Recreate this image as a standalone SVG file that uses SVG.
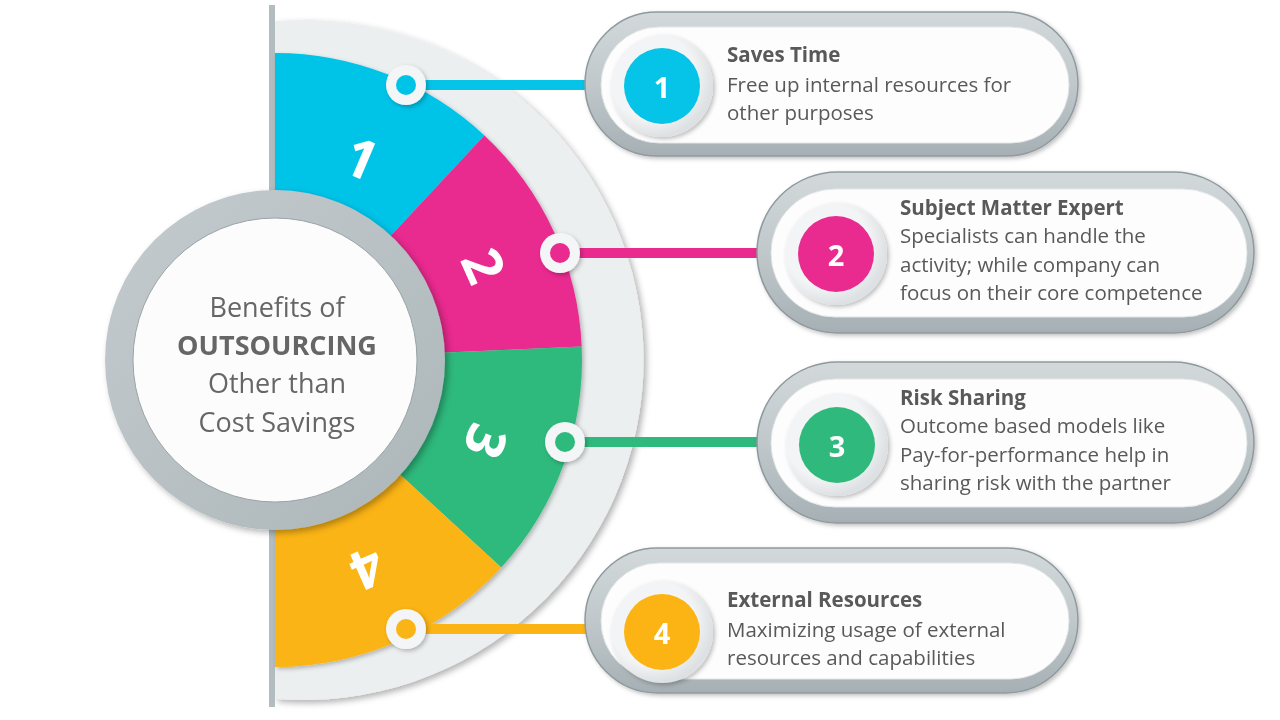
<svg xmlns="http://www.w3.org/2000/svg" width="1280" height="720" viewBox="0 0 1280 720">
<defs>
<style>
.body{font-family:"Open Sans","Liberation Sans",sans-serif;font-size:20.5px;fill:#595959}
.title{font-family:"Open Sans","Liberation Sans",sans-serif;font-size:20.5px;font-weight:bold;fill:#595959}
.num{font-family:"Open Sans","Liberation Sans",sans-serif;font-size:29px;font-weight:bold;fill:#ffffff;text-anchor:middle;dominant-baseline:central}
.seg{font-family:"Open Sans","Liberation Sans",sans-serif;font-size:54px;font-weight:bold;fill:#ffffff;text-anchor:middle;dominant-baseline:central}
.ctr{font-family:"Open Sans","Liberation Sans",sans-serif;font-size:27px;fill:#666666;text-anchor:middle}
.frame{fill:url(#frameG);stroke:#8f9a9e;stroke-width:1.5}
.inner{fill:#fdfdfd;stroke:#e2e6e7;stroke-width:1}
.halo{fill:url(#haloG);filter:url(#sh2)}
.conn{stroke-width:10;fill:none}
</style>
<linearGradient id="frameG" x1="0" y1="0" x2="0" y2="1">
<stop offset="0" stop-color="#d3d9db"/>
<stop offset="0.5" stop-color="#c0c8cb"/>
<stop offset="1" stop-color="#a6b0b4"/>
</linearGradient>
<linearGradient id="ringG" x1="0" y1="0" x2="1" y2="1">
<stop offset="0" stop-color="#c4cbce"/>
<stop offset="1" stop-color="#acb6b9"/>
</linearGradient>
<radialGradient id="haloG" cx="0.4" cy="0.4" r="0.6">
<stop offset="0.7" stop-color="#f3f4f5"/>
<stop offset="1" stop-color="#dde1e3"/>
</radialGradient>
<filter id="sh" x="-20%" y="-20%" width="140%" height="140%">
<feDropShadow dx="3" dy="3" stdDeviation="3" flood-color="#000" flood-opacity="0.3"/>
</filter>
<filter id="sh2" x="-20%" y="-20%" width="140%" height="140%">
<feDropShadow dx="2" dy="2" stdDeviation="2" flood-color="#000" flood-opacity="0.25"/>
</filter>
</defs>
<rect width="1280" height="720" fill="#ffffff"/>

<g id="backdrop">
<path d="M275,21.2 A340,340 0 1 1 275,698.8 Z" fill="#eceff0" filter="url(#sh)"/>
<rect x="269" y="5" width="6" height="702" fill="#b3bcbf"/>
</g>

<g id="segments" filter="url(#sh2)">
<g id="seg1"><path d="M275,53 A307,307 0 0 1 484.4,135.5 L377.3,250.3 A150,150 0 0 0 275,210 Z" fill="#06c3e8"/>
<text class="seg" transform="translate(362,157) rotate(23)">1</text></g>
<g id="seg2"><path d="M484.4,135.5 A307,307 0 0 1 581.7,346.6 L424.9,353.5 A150,150 0 0 0 377.3,250.3 Z" fill="#e92b8f"/>
<text class="seg" transform="translate(485,265) rotate(66)">2</text></g>
<g id="seg3"><path d="M581.7,346.6 A307,307 0 0 1 501.3,567.4 L385.6,461.3 A150,150 0 0 0 424.9,353.5 Z" fill="#2fb97d"/>
<text class="seg" transform="translate(487,442) rotate(111)">3</text></g>
<g id="seg4"><path d="M501.3,567.4 A307,307 0 0 1 275,667 L275,510 A150,150 0 0 0 385.6,461.3 Z" fill="#fbb414"/>
<text class="seg" transform="translate(368,570) rotate(156)">4</text></g>
</g>

<g id="center">
<circle cx="275" cy="360" r="170" fill="url(#ringG)" filter="url(#sh)"/>
<circle cx="275" cy="360" r="142" fill="#fcfcfc" stroke="#9aa4a8" stroke-width="1"/>
<text class="ctr" x="277" y="317">Benefits of</text>
<text class="ctr" x="277" y="355" font-weight="bold" fill="#454545">OUTSOURCING</text>
<text class="ctr" x="277" y="393">Other than</text>
<text class="ctr" x="277" y="432">Cost Savings</text>
</g>

<g id="connectors">
<line class="conn" x1="406" y1="85" x2="592" y2="85" stroke="#06c3e8"/>
<line class="conn" x1="560" y1="253" x2="772" y2="253" stroke="#e92b8f"/>
<line class="conn" x1="565" y1="442" x2="772" y2="442" stroke="#2fb97d"/>
<line class="conn" x1="406" y1="629" x2="592" y2="629" stroke="#fbb414"/>
<g filter="url(#sh2)">
<circle cx="406" cy="85" r="20" fill="#f4f5f6"/><circle cx="406" cy="85" r="10" fill="#06c3e8"/>
<circle cx="560" cy="253" r="20" fill="#f4f5f6"/><circle cx="560" cy="253" r="10" fill="#e92b8f"/>
<circle cx="565" cy="442" r="20" fill="#f4f5f6"/><circle cx="565" cy="442" r="10" fill="#2fb97d"/>
<circle cx="406" cy="629" r="20" fill="#f4f5f6"/><circle cx="406" cy="629" r="10" fill="#fbb414"/>
</g>
</g>

<g id="pill1">
<rect class="frame" x="585" y="12" width="493" height="144" rx="72" filter="url(#sh2)"/>
<rect class="inner" x="601" y="27" width="468" height="116" rx="58"/>
<circle class="halo" cx="662" cy="86" r="51"/>
<circle cx="662" cy="86" r="38" fill="#06c3e8"/>
<text class="num" x="662" y="86">1</text>
<text class="title" x="727" y="62">Saves Time</text>
<text class="body" x="727" y="92">Free up internal resources for</text>
<text class="body" x="727" y="120">other purposes</text>
</g>

<g id="pill2">
<rect class="frame" x="757" y="172" width="497" height="161" rx="80.5" filter="url(#sh2)"/>
<rect class="inner" x="771" y="189" width="476" height="128" rx="64"/>
<circle class="halo" cx="836" cy="254" r="51"/>
<circle cx="836" cy="254" r="38" fill="#e92b8f"/>
<text class="num" x="836" y="254">2</text>
<text class="title" x="900" y="215">Subject Matter Expert</text>
<text class="body" x="900" y="243">Specialists can handle the</text>
<text class="body" x="900" y="272">activity; while company can</text>
<text class="body" x="900" y="300">focus on their core competence</text>
</g>

<g id="pill3">
<rect class="frame" x="757" y="362" width="497" height="161" rx="80.5" filter="url(#sh2)"/>
<rect class="inner" x="771" y="379" width="476" height="128" rx="64"/>
<circle class="halo" cx="837" cy="445" r="51"/>
<circle cx="837" cy="445" r="38" fill="#2fb97d"/>
<text class="num" x="837" y="445">3</text>
<text class="title" x="900" y="405">Risk Sharing</text>
<text class="body" x="900" y="433">Outcome based models like</text>
<text class="body" x="900" y="462">Pay-for-performance help in</text>
<text class="body" x="900" y="490">sharing risk with the partner</text>
</g>

<g id="pill4">
<rect class="frame" x="585" y="548" width="493" height="145" rx="72.5" filter="url(#sh2)"/>
<rect class="inner" x="601" y="563" width="468" height="116" rx="58"/>
<circle class="halo" cx="662" cy="632" r="51"/>
<circle cx="662" cy="632" r="38" fill="#fbb414"/>
<text class="num" x="662" y="632">4</text>
<text class="title" x="727" y="607">External Resources</text>
<text class="body" x="727" y="637">Maximizing usage of external</text>
<text class="body" x="727" y="665">resources and capabilities</text>
</g>
</svg>
